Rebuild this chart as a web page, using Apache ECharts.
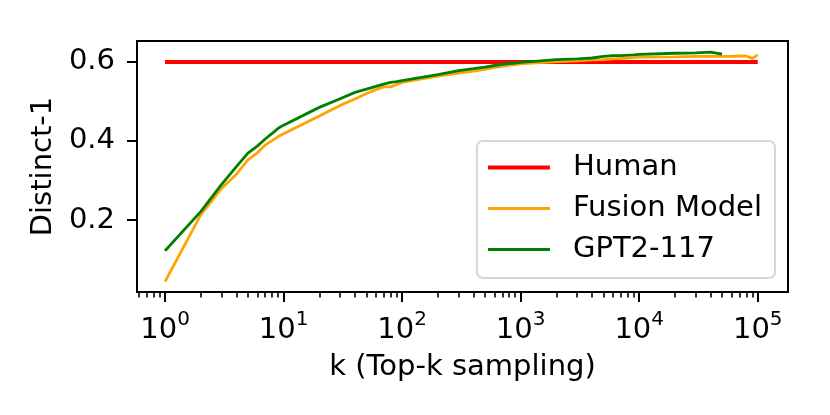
<!DOCTYPE html>
<html>
<head>
<meta charset="utf-8">
<script src="https://cdn.jsdelivr.net/npm/echarts@6/dist/echarts.min.js"></script>
<style>
  html, body { margin: 0; padding: 0; background: #fff; }
  #main { width: 830px; height: 415px; }
</style>
</head>
<body>
<div id="main"></div>
<script>
// values
var kValues = [1,2,3,4,5,6,7,8,9,10,20,30,40,50,60,70,80,90,100,200,300,400,500,600,700,800,900,1000,
  2000,3000,4000,5000,6000,7000,8000,9000,10000,20000,30000,40000,50000,60000,70000,80000,90000,100000];
var fusionValues = [0.044,0.213,0.280,0.316,0.352,0.370,0.390,0.401,0.411,0.418,0.463,0.490,0.506,0.520,
  0.530,0.537,0.537,0.543,0.548,0.564,0.572,0.577,0.581,0.586,0.589,0.592,0.593,0.595,0.601,0.603,0.605,
  0.606,0.608,0.609,0.610,0.611,0.612,0.613,0.614,0.614,0.614,0.614,0.615,0.615,0.609,0.618];
var gptValues = [0.122,0.221,0.290,0.335,0.369,0.387,0.405,0.419,0.432,0.440,0.485,0.507,0.523,0.531,
  0.538,0.544,0.548,0.550,0.553,0.568,0.578,0.583,0.587,0.591,0.594,0.596,0.597,0.599,0.606,0.608,0.610,
  0.614,0.616,0.616,0.617,0.618,0.619,0.622,0.623,0.625,0.620];
var humanK = [1, 100000];
var humanValues = [0.6, 0.6];
var xTickValues = [1, 10, 100, 1000, 10000, 100000];
var yTickValues = [0.2, 0.4, 0.6];

function pairs(xs, ys) {
  var out = [];
  for (var i = 0; i < ys.length; i++) out.push([xs[i], ys[i]]);
  return out;
}

// log minor ticks 2..9 x 10^n
var minorTicks = [0.6, 0.7, 0.8, 0.9];
for (var d = 0; d < 5; d++) {
  for (var m = 2; m <= 9; m++) minorTicks.push(m * Math.pow(10, d));
}

var FONT = 'DejaVu Sans';
var FS = 29;
var dom = document.getElementById('main');
var myChart = echarts.init(dom);

var option = {
  animation: false,
  grid: {
    left: 137, right: 42, top: 41, bottom: 123,
    show: true, borderColor: '#000', borderWidth: 2, backgroundColor: '#fff'
  },
  legend: {
    orient: 'vertical',
    right: 55, bottom: 137,
    itemWidth: 62, itemHeight: 14, itemGap: 12,
    padding: [12, 13, 14, 9],
    borderColor: '#d6d6d6', borderWidth: 2, borderRadius: 6,
    backgroundColor: 'rgba(255,255,255,0.8)',
    itemStyle: { opacity: 0 },
    textStyle: { fontFamily: FONT, fontSize: FS, color: '#000', padding: [0, 0, 0, 18] },
    data: [
      { name: 'Human', lineStyle: { width: 4 } },
      { name: 'Fusion Model', lineStyle: { width: 3 } },
      { name: 'GPT2-117', lineStyle: { width: 3 } }
    ]
  },
  xAxis: [{
    type: 'log', logBase: 10, min: 0.58, max: 180000,
    name: 'k (Top-k sampling)', nameLocation: 'middle', nameGap: 61,
    nameTextStyle: { fontFamily: FONT, fontSize: FS, color: '#000' },
    axisLine: { show: false },
    splitLine: { show: false },
    axisTick: { show: true, length: 10, lineStyle: { color: '#000', width: 2 }, customValues: xTickValues },
    axisLabel: {
      margin: 18, customValues: xTickValues,
      formatter: function (v) {
        return '{b|10}{s|' + Math.round(Math.log10(v)) + '}';
      },
      rich: {
        b: { fontFamily: FONT, fontSize: FS, color: '#000', padding: [6, 0, 0, 0], verticalAlign: 'bottom' },
        s: { fontFamily: FONT, fontSize: 20, color: '#000', verticalAlign: 'top' }
      }
    }
  }, {
    type: 'log', logBase: 10, min: 0.58, max: 180000, position: 'bottom',
    axisLine: { show: false }, splitLine: { show: false }, axisLabel: { show: false },
    axisTick: { show: true, length: 5.5, lineStyle: { color: '#000', width: 1.6 }, customValues: minorTicks }
  }],
  yAxis: {
    type: 'value', min: 0.0177, max: 0.653,
    name: 'Distinct-1', nameLocation: 'middle', nameGap: 75,
    nameTextStyle: { fontFamily: FONT, fontSize: FS, color: '#000' },
    axisLine: { show: false },
    splitLine: { show: false },
    axisTick: { show: true, length: 10, lineStyle: { color: '#000', width: 2 }, customValues: yTickValues },
    axisLabel: {
      margin: 22, customValues: yTickValues,
      fontFamily: FONT, fontSize: FS, color: '#000',
      formatter: function (v) { return v.toFixed(1); }
    }
  },
  series: [
    {
      name: 'Human', type: 'line', symbol: 'none',
      lineStyle: { color: '#ff0000', width: 4 }, itemStyle: { color: '#ff0000' },
      data: pairs(humanK, humanValues)
    },
    {
      name: 'Fusion Model', type: 'line', symbol: 'none',
      lineStyle: { color: '#ffa500', width: 2.8 }, itemStyle: { color: '#ffa500' },
      data: pairs(kValues, fusionValues)
    },
    {
      name: 'GPT2-117', type: 'line', symbol: 'none',
      lineStyle: { color: '#008000', width: 2.8 }, itemStyle: { color: '#008000' },
      data: pairs(kValues, gptValues)
    }
  ]
};

if (option && typeof option === 'object') {
  myChart.setOption(option, true);
  window.onresize = function () { myChart.resize(); };
}
</script>
</body>
</html>
